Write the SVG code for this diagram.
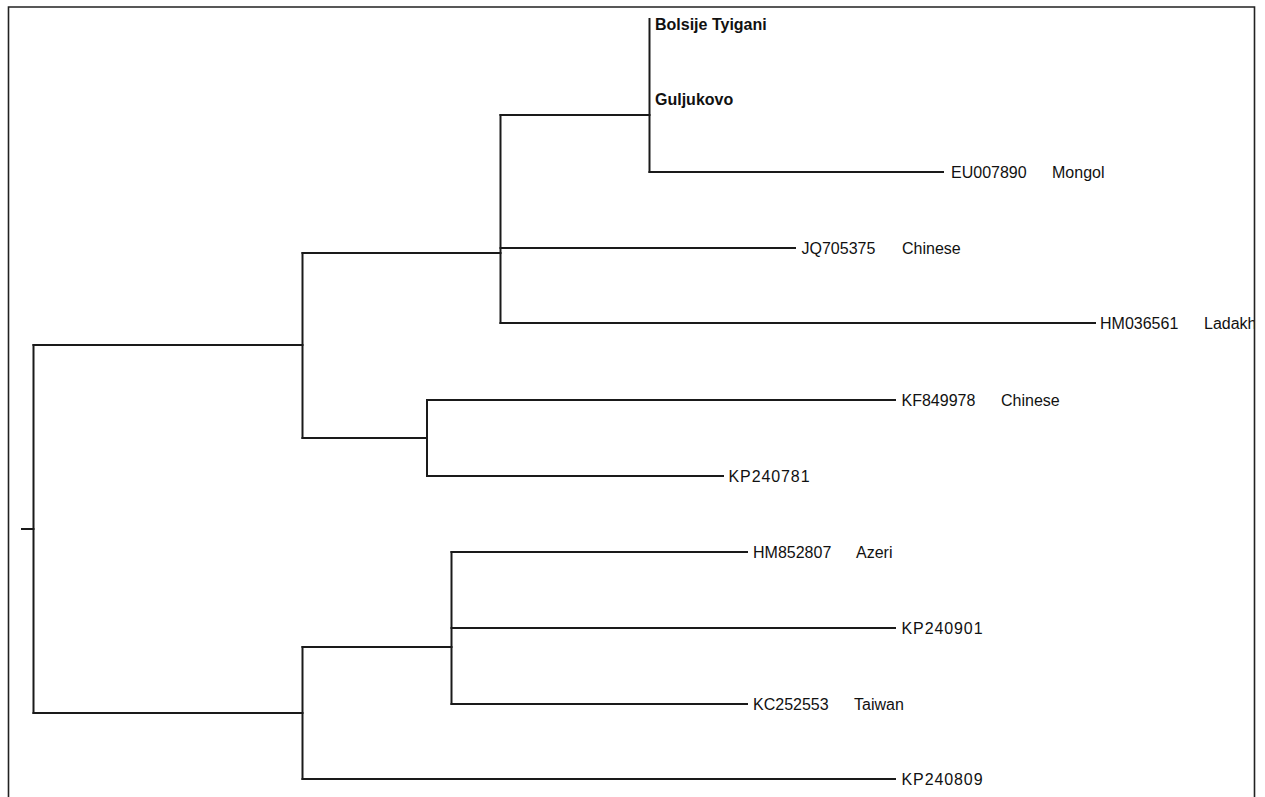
<svg xmlns="http://www.w3.org/2000/svg" width="1265" height="797" viewBox="0 0 1265 797">
  <style>
    .br { fill: none; stroke: #1a1a1a; stroke-width: 2; stroke-linecap: square; }
    .lab { font-family: "Liberation Sans", Arial, sans-serif; font-size: 16px; fill: #111; }
    .bold { font-weight: bold; }
    .sp { letter-spacing: 0.9px; }
  </style>
  <defs>
    <clipPath id="frameClip"><rect x="9" y="8" width="1245" height="789"/></clipPath>
  </defs>
  <rect x="0" y="0" width="1265" height="797" fill="#ffffff"/>
  <path id="frame" d="M8.5,797 V7 H1254.5 V797" fill="none" stroke="#222" stroke-width="1.6"/>

  <g id="connectors" class="br">
    <path d="M22,529 H33.5"/>
    <path d="M33.5,345 V713"/>
    <path d="M33.5,345 H302.5"/>
    <path d="M33.5,713 H302.5"/>
    <path d="M302.5,253 V438"/>
    <path d="M302.5,253 H500.5"/>
    <path d="M302.5,438 H427"/>
    <path d="M500.5,115 V323"/>
    <path d="M500.5,115 H649.5"/>
    <path d="M649.5,19 V172"/>
    <path d="M649.5,172 H943"/>
    <path d="M500.5,248 H795"/>
    <path d="M500.5,323 H1095"/>
    <path d="M427,400 V476"/>
    <path d="M427,400 H895"/>
    <path d="M427,476 H723"/>
    <path d="M302.5,647 V779"/>
    <path d="M302.5,647 H451.5"/>
    <path d="M302.5,779 H895"/>
    <path d="M451.5,552 V704"/>
    <path d="M451.5,552 H747"/>
    <path d="M451.5,628 H895"/>
    <path d="M451.5,704 H747"/>
  </g>

  <g clip-path="url(#frameClip)">
    <g id="leaf-bolsije"><text class="lab bold" x="655" y="29.5">Bolsije Tyigani</text></g>
    <g id="leaf-guljukovo"><text class="lab bold" x="655" y="104.5">Guljukovo</text></g>
    <g id="leaf-EU007890"><text class="lab" x="951" y="178">EU007890</text><text class="lab" x="1052" y="178">Mongol</text></g>
    <g id="leaf-JQ705375"><text class="lab" x="801.5" y="254">JQ705375</text><text class="lab" x="902" y="254">Chinese</text></g>
    <g id="leaf-HM036561"><text class="lab" x="1100" y="329">HM036561</text><text class="lab" x="1204" y="329">Ladakh</text></g>
    <g id="leaf-KF849978"><text class="lab" x="901.5" y="406">KF849978</text><text class="lab" x="1001" y="406">Chinese</text></g>
    <g id="leaf-KP240781"><text class="lab sp" x="728.5" y="482">KP240781</text></g>
    <g id="leaf-HM852807"><text class="lab" x="753" y="558">HM852807</text><text class="lab" x="856" y="558">Azeri</text></g>
    <g id="leaf-KP240901"><text class="lab sp" x="901.5" y="634">KP240901</text></g>
    <g id="leaf-KC252553"><text class="lab" x="753" y="710">KC252553</text><text class="lab" x="854" y="710">Taiwan</text></g>
    <g id="leaf-KP240809"><text class="lab sp" x="901.5" y="785">KP240809</text></g>
  </g>
</svg>
